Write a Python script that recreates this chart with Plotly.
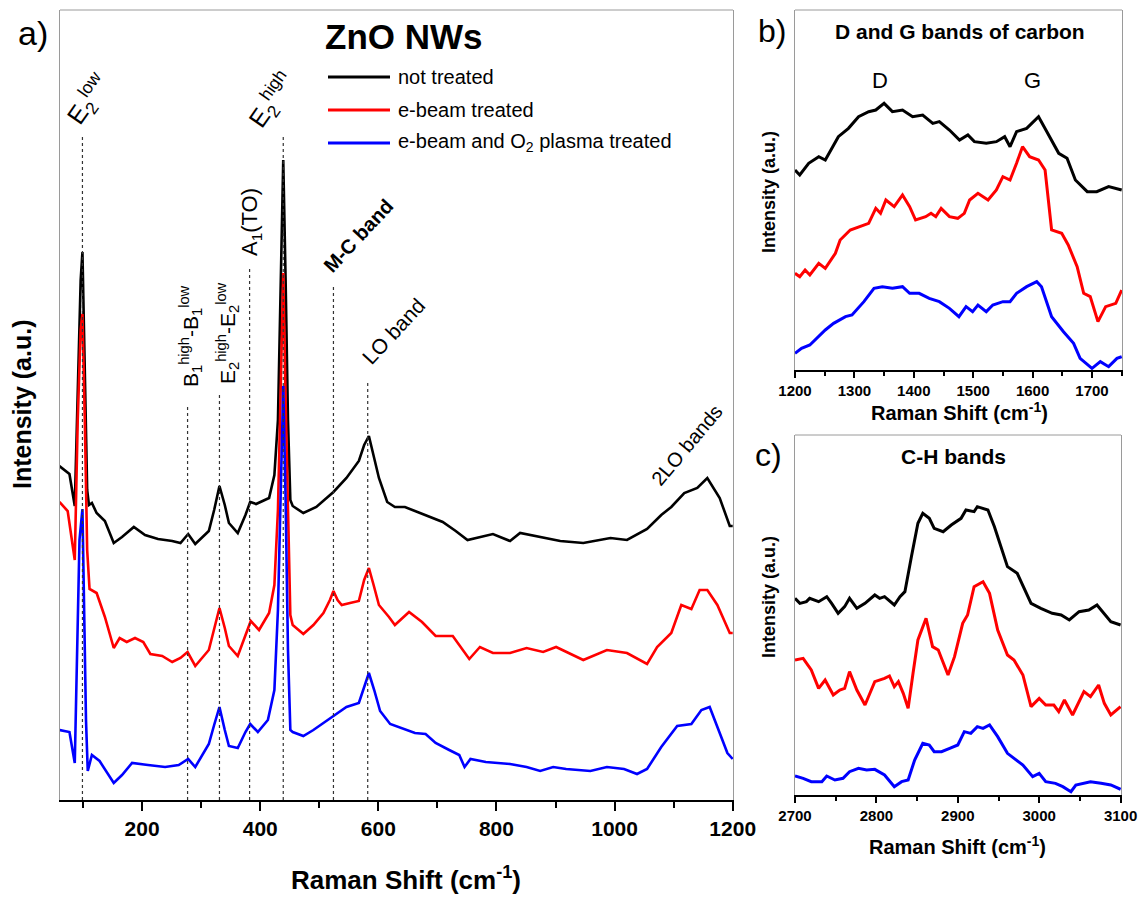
import plotly.graph_objects as go

# ---------------- data: panel a (ZnO NWs, 60-1200 cm-1) ----------------
a_black_x = [60, 77, 86, 91, 96, 99, 103, 107, 110, 115, 123, 137, 152, 166, 186, 205, 227, 251, 265, 278, 290, 313,
             322, 331, 340, 347, 362, 375, 383, 393, 415, 424, 430, 435, 439, 443, 447, 451, 455, 473, 495, 524, 546,
             567, 576, 584, 592, 601, 615, 628, 645, 680, 709, 731, 751, 794, 823, 840, 879, 908, 947, 993, 1021,
             1055, 1079, 1096, 1118, 1140, 1157, 1178, 1195, 1200]
a_black_y = [334, 326, 294, 400, 520, 548, 430, 310, 295, 297, 287, 279, 257, 263, 273, 265, 261, 259, 257, 266, 256, 269,
             290, 314, 295, 277, 267, 285, 298, 296, 302, 325, 380, 520, 640, 520, 380, 300, 294, 287, 293, 308, 322,
             339, 355, 364, 345, 322, 298, 293, 293, 285, 278, 269, 260, 266, 259, 267, 262, 259, 257, 262, 260,
             271, 285, 293, 307, 312, 322, 302, 274, 274]

a_red_x = [60, 74, 86, 91, 96, 99, 103, 107, 111, 123, 137, 152, 162, 174, 188, 202, 214, 234, 251, 265, 277, 290, 313,
           322, 331, 340, 347, 362, 375, 384, 398, 415, 424, 430, 435, 439, 443, 447, 451, 455, 473, 490, 507, 518,
           524, 531, 538, 552, 567, 576, 584, 592, 601, 618, 628, 652, 674, 697, 726, 754, 772, 794, 823, 851, 879,
           901, 947, 987, 1021, 1055, 1072, 1096, 1113, 1130, 1144, 1157, 1174, 1195, 1200]
a_red_y = [298, 289, 240, 380, 470, 486, 380, 250, 211, 207, 183, 152, 162, 158, 162, 158, 146, 144, 138, 142, 148, 134, 150,
           170, 192, 172, 154, 144, 165, 179, 170, 187, 215, 290, 420, 527, 400, 280, 185, 175, 166, 175, 187, 200,
           209, 200, 195, 197, 199, 220, 232, 215, 195, 183, 175, 188, 178, 164, 164, 141, 153, 147, 147, 152, 148,
           153, 140, 150, 147, 136, 153, 167, 195, 191, 210, 210, 195, 167, 167]

a_blue_x = [60, 77, 86, 90, 94, 99, 102, 105, 108, 115, 128, 152, 166, 183, 210, 239, 262, 278, 290, 313, 322, 331, 340,
            347, 362, 375, 383, 396, 413, 424, 430, 435, 439, 443, 447, 451, 455, 473, 490, 524, 546, 567, 576, 584,
            593, 603, 620, 645, 662, 680, 697, 720, 737, 746, 756, 782, 823, 851, 874, 896, 918, 959, 987, 1016, 1038,
            1055, 1079, 1106, 1130, 1147, 1161, 1178, 1191, 1200]
a_blue_y = [70, 68, 37, 150, 260, 291, 200, 80, 29, 45, 39, 17, 25, 37, 35, 33, 35, 41, 33, 56, 75, 93, 70,
            54, 52, 68, 76, 68, 80, 110, 190, 330, 414, 300, 150, 70, 68, 64, 70, 84, 93, 97, 112, 127,
            110, 89, 76, 71, 67, 66, 57, 50, 45, 33, 41, 38, 36, 33, 29, 33, 31, 29, 33, 31, 26,
            31, 53, 74, 76, 90, 93, 67, 47, 41]

# Raman modes (dotted markers) in panel a
mode_pos = [99, 277, 331, 382, 439, 524, 582]
mode_top = [665, 395, 405, 532, 665, 515, 420]

# ---------------- data: panel b (D and G bands, 1200-1750 cm-1) ----------------
b_black_x = [1200, 1208, 1223, 1240, 1251, 1273, 1290, 1307, 1324, 1336, 1350, 1364, 1381, 1398, 1415, 1432, 1443, 1460,
             1477, 1491, 1502, 1522, 1539, 1553, 1562, 1573, 1590, 1610, 1624, 1644, 1658, 1672, 1692, 1708, 1728, 1750]
b_black_y = [600, 585, 620, 640, 630, 700, 725, 760, 775, 780, 800, 775, 780, 760, 765, 740, 745, 720,
             690, 705, 685, 680, 685, 700, 670, 715, 725, 760, 715, 650, 635, 570, 535, 535, 550, 540]
b_red_x = [1200, 1208, 1217, 1225, 1240, 1251, 1268, 1276, 1293, 1307, 1324, 1336, 1344, 1353, 1367, 1381, 1393, 1403,
           1420, 1429, 1437, 1446, 1460, 1474, 1485, 1494, 1508, 1525, 1539, 1550, 1562, 1573, 1583, 1595, 1610, 1621,
           1632, 1649, 1660, 1675, 1686, 1697, 1710, 1723, 1740, 1750]
b_red_y = [290, 280, 300, 285, 320, 305, 350, 390, 420, 430, 440, 485, 470, 510, 490, 525, 490, 450,
           460, 470, 460, 485, 460, 455, 470, 510, 530, 510, 540, 580, 570, 620, 670, 640, 630, 600,
           420, 410, 375, 310, 230, 220, 145, 190, 200, 240]
b_blue_x = [1200, 1211, 1225, 1237, 1251, 1265, 1285, 1296, 1316, 1333, 1347, 1364, 1381, 1393, 1409, 1426, 1443, 1460,
            1476, 1488, 1499, 1508, 1522, 1533, 1550, 1562, 1573, 1590, 1607, 1615, 1632, 1652, 1669, 1680, 1700, 1714,
            1728, 1742, 1750]
b_blue_y = [50, 65, 75, 95, 120, 140, 160, 165, 205, 245, 250, 245, 250, 230, 230, 215, 205, 185,
            160, 190, 175, 195, 175, 195, 205, 205, 230, 250, 265, 250, 160, 115, 80, 35, 5, 25,
            10, 35, 40]

# ---------------- data: panel c (C-H bands, 2700-3100 cm-1) ----------------
c_black_x = [2700, 2706, 2714, 2718, 2729, 2739, 2745, 2753, 2761, 2767, 2776, 2786, 2798, 2804, 2810, 2822, 2829, 2835,
             2843, 2851, 2857, 2865, 2871, 2882, 2892, 2904, 2910, 2920, 2924, 2937, 2945, 2953, 2961, 2973, 2982, 2990,
             3002, 3016, 3027, 3037, 3049, 3061, 3071, 3080, 3088, 3100]
c_black_y = [590, 575, 580, 590, 580, 595, 575, 545, 565, 590, 560, 575, 600, 590, 595, 570, 595, 610,
             715, 815, 845, 830, 800, 790, 810, 830, 855, 850, 865, 855, 805, 745, 685, 665, 615, 575,
             560, 545, 540, 525, 550, 555, 570, 545, 520, 510]
c_red_x = [2700, 2710, 2720, 2729, 2737, 2747, 2755, 2761, 2767, 2776, 2786, 2798, 2810, 2816, 2822, 2827, 2833, 2839,
           2845, 2851, 2861, 2869, 2876, 2888, 2896, 2906, 2912, 2920, 2931, 2939, 2949, 2961, 2969, 2980, 2990, 3000,
           3008, 3018, 3024, 3031, 3041, 3055, 3063, 3073, 3080, 3088, 3100]
c_red_y = [405, 410, 375, 320, 345, 300, 315, 320, 370, 315, 270, 340, 350, 357, 325, 340, 305, 260,
           365, 465, 530, 445, 435, 360, 415, 515, 540, 625, 640, 605, 495, 420, 405, 360, 265, 290,
           270, 270, 250, 285, 240, 310, 295, 330, 275, 240, 265]
c_blue_x = [2700, 2710, 2720, 2733, 2739, 2749, 2759, 2767, 2778, 2788, 2798, 2810, 2822, 2831, 2839, 2847, 2857, 2865,
            2871, 2880, 2890, 2900, 2908, 2916, 2924, 2931, 2939, 2949, 2961, 2969, 2980, 2992, 3000, 3008, 3020, 3029,
            3039, 3045, 3055, 3063, 3076, 3088, 3100]
c_blue_y = [57, 50, 40, 40, 57, 45, 50, 70, 80, 75, 77, 60, 25, 40, 45, 105, 155, 150,
            130, 130, 140, 150, 190, 185, 205, 200, 210, 175, 125, 110, 90, 55, 65, 40, 35, 25,
            10, 30, 35, 40, 35, 30, 17]

series_names = ["not treated", "e-beam treated", "e-beam and O<sub>2</sub> plasma treated"]
series_colors = ["#000000", "#ff0000", "#0000ff"]

FONT = "Arial, Liberation Sans, sans-serif"
W, H = 1144, 900


def px(x):
    return x / W


def py(y):
    return 1 - y / H


fig = go.Figure()

panels = [
    ("x", "y", [(a_black_x, a_black_y), (a_red_x, a_red_y), (a_blue_x, a_blue_y)], 2.6),
    ("x2", "y2", [(b_black_x, b_black_y), (b_red_x, b_red_y), (b_blue_x, b_blue_y)], 3.0),
    ("x3", "y3", [(c_black_x, c_black_y), (c_red_x, c_red_y), (c_blue_x, c_blue_y)], 3.0),
]
for xa, ya, data, lw in panels:
    for (xs, ys), name, col in zip(data, series_names, series_colors):
        fig.add_trace(go.Scatter(x=xs, y=ys, mode="lines", name=name, showlegend=False,
                                 line=dict(color=col, width=lw), xaxis=xa, yaxis=ya))

axis_common = dict(showgrid=False, zeroline=False, showline=True, linecolor="black", linewidth=2,
                   ticks="outside", tickcolor="black", tickwidth=2, mirror=False, automargin=False)
yaxis_common = dict(showgrid=False, zeroline=False, showline=True, linecolor="#9a9a9a", linewidth=1,
                    mirror=True, showticklabels=False, ticks="", automargin=False)

fig.update_layout(
    template="none",
    width=W, height=H, margin=dict(l=0, r=0, t=0, b=0, pad=0), autosize=False,
    plot_bgcolor="white", paper_bgcolor="white",
    font=dict(family=FONT, color="black"),
    xaxis=dict(domain=[px(60), px(733)], range=[61, 1200.5], anchor="y", dtick=200, tick0=0, ticklen=9,
               minor=dict(dtick=100, tick0=0, ticks="outside", ticklen=6, tickwidth=2, tickcolor="black"),
               tickfont=dict(size=21, family=FONT, weight="bold"), **axis_common),
    yaxis=dict(domain=[py(800), py(10)], range=[0, 790], anchor="x", **yaxis_common),
    xaxis2=dict(domain=[px(795), px(1122)], range=[1200, 1750.5], anchor="y2", dtick=100, tick0=0, ticklen=6,
                minor=dict(dtick=50, tick0=0, ticks="outside", ticklen=4, tickwidth=1.5, tickcolor="black"),
                tickfont=dict(size=15, family=FONT, weight="bold"), **axis_common),
    yaxis2=dict(domain=[py(370), py(10)], range=[0, 1080], anchor="x2", **yaxis_common),
    xaxis3=dict(domain=[px(795), px(1121)], range=[2700, 3100.5], anchor="y3", dtick=100, tick0=0, ticklen=6,
                minor=dict(dtick=50, tick0=0, ticks="outside", ticklen=4, tickwidth=1.5, tickcolor="black"),
                tickfont=dict(size=15, family=FONT, weight="bold"), **axis_common),
    yaxis3=dict(domain=[py(795), py(435)], range=[0, 1080], anchor="x3", **yaxis_common),
)

shapes = []
# top frame lines (gray)
for xa, ya in [("x", "y"), ("x2", "y2"), ("x3", "y3")]:
    shapes.append(dict(type="line", xref=f"{xa} domain", yref=f"{ya} domain", x0=0, x1=1, y0=1, y1=1,
                       line=dict(color="#9a9a9a", width=1)))
# dotted Raman mode markers
for xpos, top in zip(mode_pos, mode_top):
    shapes.append(dict(type="line", xref="x", yref="y", x0=xpos, x1=xpos, y0=0, y1=top,
                       line=dict(color="#333333", width=1.2, dash="dot"), layer="above"))
# legend samples
legend_y = [77, 110, 143]
for yy, col in zip(legend_y, series_colors):
    shapes.append(dict(type="line", xref="paper", yref="paper", x0=px(328), x1=px(390), y0=py(yy), y1=py(yy),
                       line=dict(color=col, width=3)))
fig.update_layout(shapes=shapes)

ann = []


def add(text, x, y, size, bold=False, angle=0, xanchor="center", yanchor="middle", xref="paper", yref="paper"):
    ann.append(dict(text=text, x=x, y=y, xref=xref, yref=yref, showarrow=False, textangle=angle,
                    xanchor=xanchor, yanchor=yanchor,
                    font=dict(size=size, family=FONT, color="black", weight="bold" if bold else "normal")))


# panel letters and titles
add("a)", px(33), py(33), 34)
add("ZnO NWs", px(403), py(37), 35, bold=True)
add("b)", px(772), py(31), 32)
add("D and G bands of carbon", px(960), py(31), 21, bold=True)
add("c)", px(768), py(455), 32)
add("C-H bands", px(953), py(456), 21, bold=True)
add("D", px(880), py(80), 22)
add("G", px(1032), py(80), 22)

# legend text
for yy, name in zip(legend_y, series_names):
    add(name, px(396), py(yy), 20, xanchor="left")

# axis titles
add("Raman Shift (cm<sup>-1</sup>)", px(406), py(878), 26, bold=True)
add("Intensity (a.u.)", px(22), py(405), 25, bold=True, angle=-90)
add("Raman Shift (cm<sup>-1</sup>)", px(959), py(411), 20, bold=True)
add("Intensity (a.u.)", px(769), py(192), 18, bold=True, angle=-90)
add("Raman Shift (cm<sup>-1</sup>)", px(957), py(845), 20, bold=True)
add("Intensity (a.u.)", px(769), py(597), 18, bold=True, angle=-90)

# mode labels
add("E<sub>2</sub><sup>low</sup>", px(88), py(100), 25, angle=-55)
add("E<sub>2</sub><sup>high</sup>", px(272), py(100), 25, angle=-55)
add("B<sub>1</sub><sup>high</sup>-B<sub>1</sub><sup>low</sup>", px(191), py(336), 21, angle=-90)
add("E<sub>2</sub><sup>high</sup>-E<sub>2</sub><sup>low</sup>", px(227), py(333), 21, angle=-90)
add("A<sub>1</sub>(TO)", px(251), py(222), 22, angle=-90)
add("M-C band", px(358), py(236), 20, bold=True, angle=-47)
add("LO band", px(393), py(331), 21, angle=-47)
add("2LO bands", px(687), py(445), 20, angle=-50)

fig.update_layout(annotations=ann)

fig.write_html("out.html")
